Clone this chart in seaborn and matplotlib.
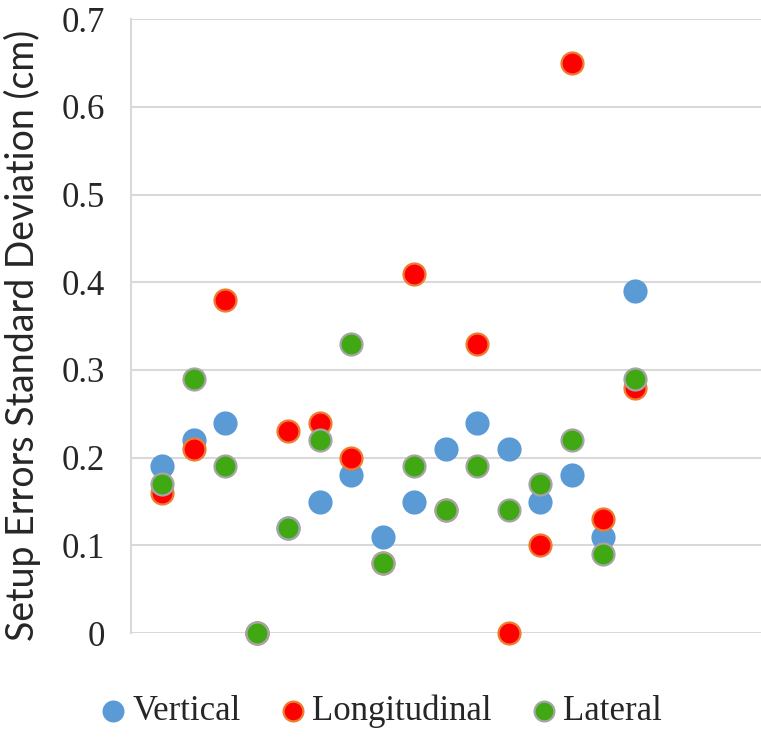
import pandas as pd
import matplotlib
matplotlib.use("Agg")
import matplotlib.pyplot as plt
import seaborn as sns

# values (16 cases each)
case_no = list(range(1, 17))
vertical = [0.19, 0.22, 0.24, 0.00, 0.12, 0.15, 0.18, 0.11, 0.15, 0.21, 0.24, 0.21, 0.15, 0.18, 0.11, 0.39]
longitudinal = [0.16, 0.21, 0.38, 0.00, 0.23, 0.24, 0.20, 0.08, 0.41, 0.14, 0.33, 0.00, 0.10, 0.65, 0.13, 0.28]
lateral = [0.17, 0.29, 0.19, 0.00, 0.12, 0.22, 0.33, 0.08, 0.19, 0.14, 0.19, 0.14, 0.17, 0.22, 0.09, 0.29]
y_ticks = [0, 0.1, 0.2, 0.3, 0.4, 0.5, 0.6, 0.7]
y_tick_labels = ["0", "0.1", "0.2", "0.3", "0.4", "0.5", "0.6", "0.7"]

data = pd.DataFrame({
    "case": case_no,
    "Vertical": vertical,
    "Longitudinal": longitudinal,
    "Lateral": lateral,
})

sns.set_style("white")
plt.rcParams["font.family"] = ["Liberation Serif", "DejaVu Serif"]

fig = plt.figure(figsize=(7.61, 7.37), dpi=100)
ax = fig.add_axes([0.172, 0.141, 0.828, 0.833])

styles = [
    ("Vertical", "#5B9BD5", "#5B9BD5"),
    ("Longitudinal", "#FF0000", "#ED7D31"),
    ("Lateral", "#40A812", "#A5A5A5"),
]
for name, fill, edge in styles:
    sns.scatterplot(data=data, x="case", y=name, ax=ax, s=250, color=fill,
                    edgecolor=edge, linewidth=1.6, label=name, zorder=3,
                    clip_on=False)

ax.set_xlim(0, 20)
ax.set_ylim(0, 0.7)
ax.set_xticks([])
ax.set_yticks(y_ticks)
ax.set_yticklabels(y_tick_labels, fontsize=25)
ax.tick_params(axis="y", length=0, pad=19)
ax.set_xlabel("")
ax.set_ylabel("Setup Errors Standard Deviation (cm)", family=["Lato", "DejaVu Sans"],
              fontsize=27)
ax.yaxis.set_label_coords(-0.142, 0.485)

ax.grid(axis="y", color="#D9D9D9", linewidth=1.5, zorder=0)
ax.set_axisbelow(True)
for side in ["top", "right", "bottom"]:
    ax.spines[side].set_visible(False)
ax.spines["left"].set_color("#D9D9D9")
ax.spines["left"].set_linewidth(1.5)

handles, labels = ax.get_legend_handles_labels()
ax.legend(handles, labels, loc="center", bbox_to_anchor=(0.50, 0.035),
          bbox_transform=fig.transFigure, ncol=3, frameon=False, fontsize=25,
          handlelength=0.8, handletextpad=0.15, columnspacing=1.1,
          markerscale=0.9, borderaxespad=0)

plt.savefig("out.png", dpi=100)
